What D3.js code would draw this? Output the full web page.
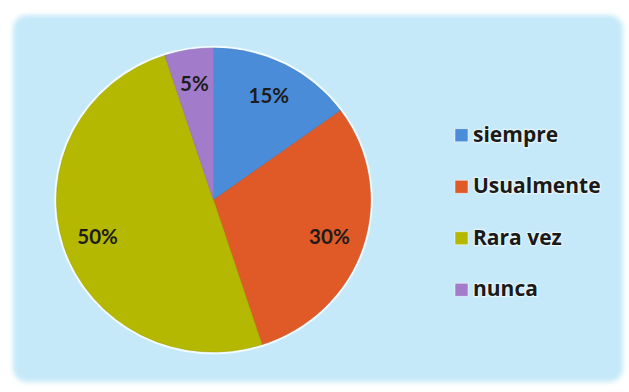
<!DOCTYPE html>
<html>
<head>
<meta charset="utf-8">
<script src="https://cdn.jsdelivr.net/npm/d3@7"></script>
<style>
  html, body { margin: 0; padding: 0; background: #ffffff; }
  svg { display: block; }
</style>
</head>
<body>
<svg id="chart" width="629" height="392"></svg>
<script>
// Survey answer frequencies (percent)
const categories = ["siempre", "Usualmente", "Rara vez", "nunca"];
const values = [15, 30, 50, 5];
const valueLabels = ["15%", "30%", "50%", "5%"];
const colors = ["#4b8cd8", "#e05a28", "#b5b800", "#a27ccb"];

const svg = d3.select("#chart");

// Panel background with a soft edge
const defs = svg.append("defs");
const glow = defs.append("filter").attr("id", "soft")
  .attr("x", "-5%").attr("y", "-5%").attr("width", "110%").attr("height", "110%");
glow.append("feGaussianBlur").attr("stdDeviation", 2.5);

svg.append("rect")
  .attr("x", 13).attr("y", 15).attr("width", 610).attr("height", 367)
  .attr("rx", 14)
  .attr("fill", "#c5e9f8")
  .attr("filter", "url(#soft)");

// Pie geometry (slightly wider than tall)
const cx = 213.5, cy = 200;
const ry = 152, rx = 157;

const pie = d3.pie().sort(null).value(d => d)(values);
const arc = d3.arc().innerRadius(0).outerRadius(ry);
const labelArc = d3.arc().innerRadius(118).outerRadius(118);

const pieG = svg.append("g")
  .attr("transform", `translate(${cx},${cy}) scale(${rx / ry},1)`);

// light rim around the pie
pieG.append("circle")
  .attr("r", ry + 1)
  .attr("fill", "none")
  .attr("stroke", "#f2fbff")
  .attr("stroke-width", 2.5);

pieG.selectAll("path.slice")
  .data(pie)
  .join("path")
  .attr("class", "slice")
  .attr("d", arc)
  .attr("fill", (d, i) => colors[i])
  .attr("stroke", (d, i) => d3.color(colors[i]).darker(0.3))
  .attr("stroke-width", 0.6);

// value labels
const labelG = svg.append("g").attr("transform", `translate(${cx},${cy})`);
labelG.selectAll("text")
  .data(pie)
  .join("text")
  .attr("transform", d => {
    const [x, y] = labelArc.centroid(d);
    return `translate(${x * rx / ry},${y})`;
  })
  .attr("text-anchor", "middle")
  .attr("dominant-baseline", "central")
  .attr("font-family", "Lato, 'Open Sans', sans-serif")
  .attr("font-weight", "bold")
  .attr("font-size", 20.5)
  .attr("fill", "#1c1c1c")
  .text((d, i) => valueLabels[i]);

// Legend
const legend = svg.append("g");
const legendRow = d3.scaleBand().domain(categories).range([116, 322]);

const item = legend.selectAll("g")
  .data(categories)
  .join("g")
  .attr("transform", d => `translate(455,${legendRow(d) + legendRow.bandwidth() / 2})`);

item.append("rect")
  .attr("x", 0).attr("y", -13)
  .attr("width", 13).attr("height", 13)
  .attr("fill", (d, i) => colors[i])
  .attr("stroke", "#ffffff")
  .attr("stroke-opacity", 0.6)
  .attr("stroke-width", 0.8);

item.append("text")
  .attr("x", 18).attr("y", 0)
  .attr("font-family", "'Open Sans', sans-serif")
  .attr("font-weight", "bold")
  .attr("font-size", 21)
  .attr("fill", "#1a1a1a")
  .attr("stroke", "#ffffff")
  .attr("stroke-opacity", 0.55)
  .attr("stroke-width", 2.5)
  .attr("paint-order", "stroke")
  .text(d => d);
</script>
</body>
</html>
